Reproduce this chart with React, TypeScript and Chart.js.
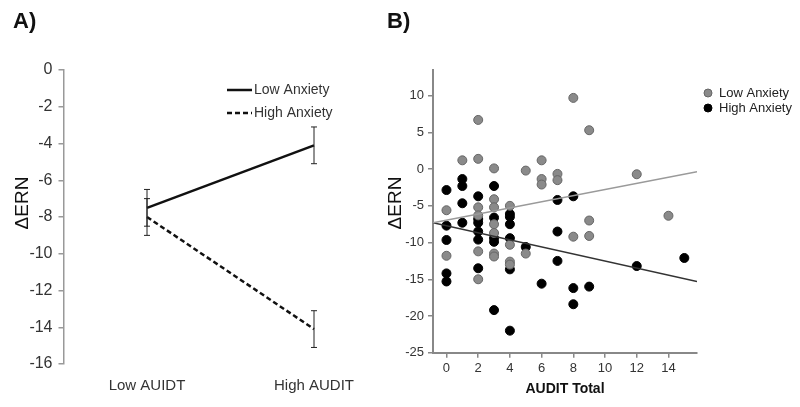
import { useEffect, useRef } from "react"
import { Chart, registerables } from "chart.js"

Chart.register(...registerables)

const FONT = "Arial, 'Liberation Sans', sans-serif"

// Panel A: group means
const groups = ["Low AUIDT", "High AUDIT"]
const lowAnxMeans = [-7.5, -4.1]
const highAnxMeans = [-8.0, -14.1]
const lowAnxErr = [1.0, 1.0]
const highAnxErr = [1.0, 1.0]

// Panel B: individual scores
const lowAnxAudit = [0, 0, 1, 2, 2, 2, 2, 2, 2, 3, 3, 3, 3, 3, 3, 3, 4, 4, 4, 4, 5, 5, 6, 6, 6, 7, 7, 8, 8, 9, 9, 9, 12, 14]
const lowAnxErn = [-5.6, -11.8, 1.2, 6.7, 1.4, -5.2, -6.3, -11.2, -15.0, 0.1, -4.1, -5.2, -7.5, -8.7, -11.5, -11.9, -5.0, -10.3, -12.6, -13.0, -0.2, -11.5, 1.2, -1.35, -2.1, -0.65, -1.5, 9.7, -9.2, 5.3, -7.0, -9.1, -0.7, -6.35]
const highAnxAudit = [0, 0, 0, 0, 0, 1, 1, 1, 1, 2, 2, 2, 2, 2, 2, 3, 3, 3, 3, 3, 4, 4, 4, 4, 4, 4, 5, 6, 7, 7, 7, 8, 8, 8, 9, 12, 15]
const highAnxErn = [-2.85, -7.7, -9.65, -14.2, -15.3, -1.35, -2.3, -4.65, -7.3, -3.7, -6.8, -7.3, -8.5, -9.6, -13.5, -2.3, -6.6, -9.4, -9.9, -19.2, -6.1, -6.5, -7.5, -9.4, -13.65, -22.0, -10.6, -15.6, -4.2, -8.5, -12.5, -3.7, -16.2, -18.4, -16.0, -13.2, -12.1]

// fit lines (end points)
const fitX = [-0.85, 15.8]
const lowFitY = [-7.3, -0.35]
const highFitY = [-7.3, -15.3]

const zip = (xs: number[], ys: number[]) => xs.map((x, i) => ({ x, y: ys[i] }))

export default function App() {
  const refA = useRef<HTMLCanvasElement>(null)
  const refB = useRef<HTMLCanvasElement>(null)

  useEffect(() => {
    if (!refA.current || !refB.current) return

    const errorBars = {
      id: "errorBars",
      afterDatasetsDraw(chart: any) {
        const { ctx, scales } = chart
        const sets = [
          { means: lowAnxMeans, errs: lowAnxErr },
          { means: highAnxMeans, errs: highAnxErr },
        ]
        ctx.save()
        ctx.strokeStyle = "#222"
        ctx.lineWidth = 1
        sets.forEach((s) => {
          s.means.forEach((m, i) => {
            const x = scales.x.getPixelForValue(i)
            const y1 = scales.y.getPixelForValue(m + s.errs[i])
            const y2 = scales.y.getPixelForValue(m - s.errs[i])
            ctx.beginPath()
            ctx.moveTo(x, y1)
            ctx.lineTo(x, y2)
            ctx.moveTo(x - 3, y1)
            ctx.lineTo(x + 3, y1)
            ctx.moveTo(x - 3, y2)
            ctx.lineTo(x + 3, y2)
            ctx.stroke()
          })
        })
        ctx.restore()
      },
      afterDraw(chart: any) {
        const { ctx } = chart
        ctx.save()
        ctx.fillStyle = "#111"
        ctx.font = `bold 22px ${FONT}`
        ctx.textBaseline = "alphabetic"
        ctx.fillText("A)", 13, 28)

        ctx.font = `19px ${FONT}`
        ctx.save()
        ctx.translate(23, 203)
        ctx.rotate(-Math.PI / 2)
        ctx.textAlign = "center"
        ctx.textBaseline = "middle"
        ctx.fillText("ΔERN", 0, 0)
        ctx.restore()

        // legend
        ctx.strokeStyle = "#111"
        ctx.lineWidth = 2.5
        ctx.beginPath()
        ctx.moveTo(227, 90)
        ctx.lineTo(252, 90)
        ctx.stroke()
        ctx.setLineDash([5, 3])
        ctx.beginPath()
        ctx.moveTo(227, 113)
        ctx.lineTo(252, 113)
        ctx.stroke()
        ctx.setLineDash([])
        ctx.font = `14px ${FONT}`
        ctx.fillStyle = "#333"
        ctx.textBaseline = "middle"
        ctx.fillText("Low Anxiety", 254, 90)
        ctx.fillText("High Anxiety", 254, 113)
        ctx.restore()
      },
    }

    const chartA = new Chart(refA.current, {
      type: "line",
      data: {
        labels: groups,
        datasets: [
          {
            label: "Low Anxiety",
            data: lowAnxMeans,
            borderColor: "#111",
            borderWidth: 2.5,
            pointRadius: 0,
            tension: 0,
          },
          {
            label: "High Anxiety",
            data: highAnxMeans,
            borderColor: "#111",
            borderWidth: 2.5,
            borderDash: [5, 3],
            pointRadius: 0,
            tension: 0,
          },
        ],
      },
      options: {
        responsive: false,
        animation: false,
        layout: { padding: { left: 0, top: 70, right: 2.5, bottom: 0 } },
        plugins: { legend: { display: false }, tooltip: { enabled: false } },
        scales: {
          x: {
            type: "category",
            offset: true,
            grid: { display: false },
            border: { display: false },
            ticks: { color: "#333", font: { family: FONT, size: 15 }, padding: 5 },
            afterFit: (s: any) => {
              s.height = 43
            },
          },
          y: {
            min: -16,
            max: 0,
            ticks: { stepSize: 2, color: "#333", font: { family: FONT, size: 16 }, padding: 6 },
            grid: { drawOnChartArea: false, drawTicks: true, tickLength: 5, color: "#999", lineWidth: 1.5 },
            border: { color: "#999", width: 1.5 },
            afterFit: (s: any) => {
              s.width = 63.5
            },
          },
        },
      },
      plugins: [errorBars],
    })

    const panelB = {
      id: "panelB",
      afterDraw(chart: any) {
        const { ctx, chartArea } = chart
        ctx.save()
        ctx.fillStyle = "#111"
        ctx.font = `bold 22px ${FONT}`
        ctx.fillText("B)", 7, 28)

        ctx.font = `19px ${FONT}`
        ctx.save()
        ctx.translate(16, 203)
        ctx.rotate(-Math.PI / 2)
        ctx.textAlign = "center"
        ctx.textBaseline = "middle"
        ctx.fillText("ΔERN", 0, 0)
        ctx.restore()

        ctx.font = `bold 14px ${FONT}`
        ctx.textAlign = "center"
        ctx.textBaseline = "middle"
        ctx.fillText("AUDIT Total", (chartArea.left + chartArea.right) / 2, 389)

        // legend
        const items = [
          { text: "Low Anxiety", fill: "#8a8a8a", stroke: "#666", y: 93 },
          { text: "High Anxiety", fill: "#000", stroke: "#000", y: 108 },
        ]
        ctx.font = `13px ${FONT}`
        ctx.textAlign = "left"
        items.forEach((it) => {
          ctx.beginPath()
          ctx.arc(328, it.y, 4, 0, Math.PI * 2)
          ctx.fillStyle = it.fill
          ctx.fill()
          ctx.strokeStyle = it.stroke
          ctx.lineWidth = 1
          ctx.stroke()
          ctx.fillStyle = "#222"
          ctx.fillText(it.text, 339, it.y)
        })
        ctx.restore()
      },
    }

    const chartB = new Chart(refB.current, {
      type: "scatter",
      data: {
        datasets: [
          {
            label: "Low fit",
            data: zip(fitX, lowFitY),
            showLine: true,
            borderColor: "#9a9a9a",
            borderWidth: 1.5,
            pointRadius: 0,
          },
          {
            label: "High fit",
            data: zip(fitX, highFitY),
            showLine: true,
            borderColor: "#333",
            borderWidth: 1.5,
            pointRadius: 0,
          },
          {
            label: "Low Anxiety",
            data: zip(lowAnxAudit, lowAnxErn),
            backgroundColor: "#8a8a8a",
            borderColor: "#666",
            borderWidth: 1,
            pointRadius: 4.5,
          },
          {
            label: "High Anxiety",
            data: zip(highAnxAudit, highAnxErn),
            backgroundColor: "#000",
            borderColor: "#000",
            borderWidth: 1,
            pointRadius: 4.5,
          },
        ],
      },
      options: {
        responsive: false,
        animation: false,
        layout: { padding: { left: 0, top: 70, right: 103, bottom: 0 } },
        plugins: { legend: { display: false }, tooltip: { enabled: false } },
        scales: {
          x: {
            type: "linear",
            min: -0.85,
            max: 15.8,
            ticks: { stepSize: 2, includeBounds: false, color: "#333", font: { family: FONT, size: 13 }, padding: 3 },
            grid: { drawOnChartArea: false, drawTicks: true, tickLength: 5, color: "#888", lineWidth: 1.5 },
            border: { color: "#888", width: 2 },
            afterFit: (s: any) => {
              s.height = 54.3
            },
          },
          y: {
            min: -25,
            max: 13.5,
            ticks: { stepSize: 5, includeBounds: false, color: "#333", font: { family: FONT, size: 13 }, padding: 4 },
            grid: { drawOnChartArea: false, drawTicks: true, tickLength: 5, color: "#888", lineWidth: 1.5 },
            border: { color: "#888", width: 2 },
            afterFit: (s: any) => {
              s.width = 53
            },
          },
        },
      },
      plugins: [panelB],
    })

    return () => {
      chartA.destroy()
      chartB.destroy()
    }
  }, [])

  return (
    <div style={{ position: "fixed", left: 0, top: 0, width: 800, height: 407, background: "#fff" }}>
      <canvas ref={refA} width={400} height={407} style={{ position: "absolute", left: 0, top: 0 }} />
      <canvas ref={refB} width={420} height={407} style={{ position: "absolute", left: 380, top: 0 }} />
    </div>
  )
}
